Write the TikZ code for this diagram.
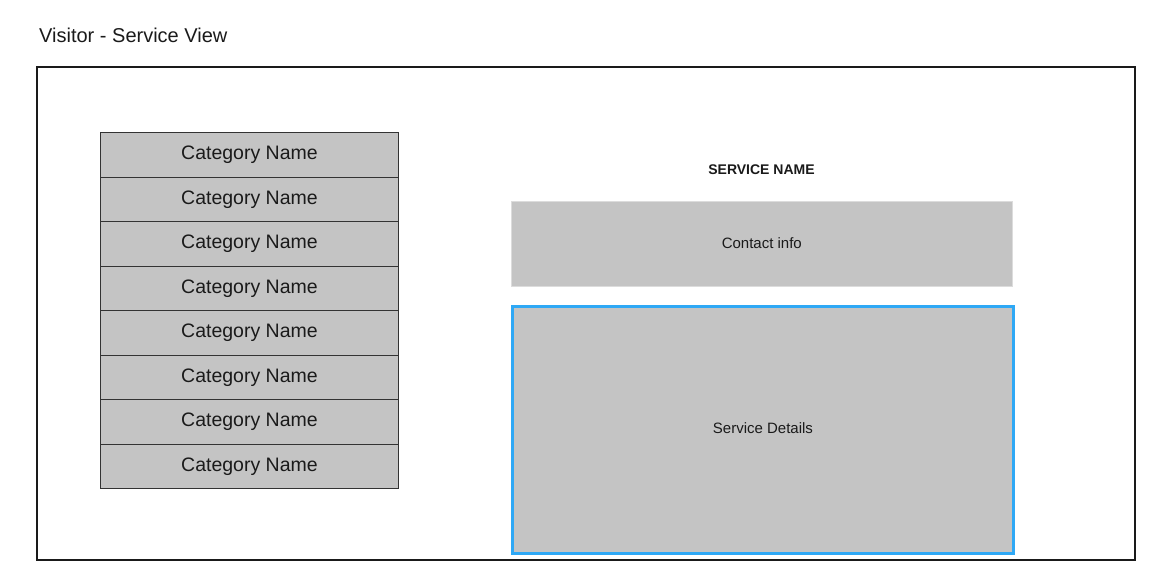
\documentclass[tikz,border=0pt]{standalone}
\usepackage{fontspec}
\setmainfont{Liberation Sans}
\definecolor{boxgray}{HTML}{C4C4C4}
\definecolor{catline}{HTML}{333333}
\definecolor{selblue}{HTML}{2EA8F5}
\definecolor{txt}{HTML}{1A1A1A}
\tikzset{
  catbox/.style={draw=catline, line width=1pt, fill=boxgray, minimum width=298pt, minimum height=44.5pt, inner sep=0pt, anchor=north west, font=\fontsize{19.5}{22}\selectfont, text=txt},
  panel/.style={fill=boxgray, inner sep=0pt, anchor=north west},
  panellbl/.style={font=\fontsize{15}{17}\selectfont, text=txt, inner sep=0pt},
}
\begin{document}
\begin{tikzpicture}[x=1pt,y=-1pt]
\useasboundingbox (0,0) rectangle (1170,582);
\node[anchor=west, font=\fontsize{20}{23}\selectfont, text=txt, inner sep=0pt] (title) at (39,35) {Visitor - Service View};
\node[draw=txt, line width=2pt, minimum width=1098pt, minimum height=493pt, anchor=north west, inner sep=0pt] (frame) at (36,66) {};
\foreach \i in {0,...,7} {
  \node[catbox] (cat\i) at (100,{132+44.5*\i}) {Category Name};
}
\node[font=\bfseries\fontsize{14}{16}\selectfont, text=txt, inner sep=0pt] (sname) at (761.5,169.5) {SERVICE NAME};
\node[panel, draw=boxgray!60!white, line width=0.6pt, minimum width=501pt, minimum height=85pt] (contact) at (511,201) {};
\node[panellbl] (contactlbl) at ([yshift=1pt]contact.center) {Contact info};
\node[panel, draw=selblue, line width=3pt, minimum width=501pt, minimum height=247pt] (details) at (511,305) {};
\node[panellbl] (detailslbl) at ([yshift=2pt]details.center) {Service Details};
\end{tikzpicture}
\end{document}
